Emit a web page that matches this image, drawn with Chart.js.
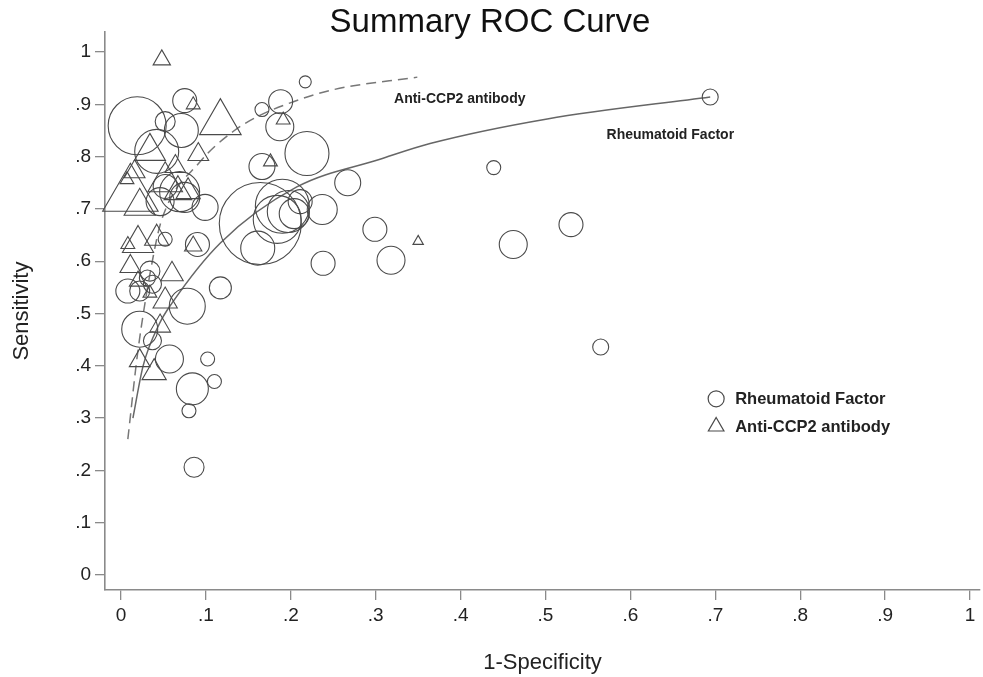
<!DOCTYPE html>
<html><head><meta charset="utf-8">
<script src="https://cdn.jsdelivr.net/npm/chart.js@4"></script>
<style>html,body{margin:0;padding:0;background:#fff}</style>
</head><body>
<canvas id="c" width="983" height="677"></canvas>
<script>
const FONT = '"Liberation Sans", Arial, sans-serif';
const tickValues = [0, 0.1, 0.2, 0.3, 0.4, 0.5, 0.6, 0.7, 0.8, 0.9, 1];
const tickLabels = ['0', '.1', '.2', '.3', '.4', '.5', '.6', '.7', '.8', '.9', '1'];

// Rheumatoid Factor studies (1-specificity, sensitivity, marker size)
const rfX = [0.694,0.439,0.530,0.462,0.565,0.318,0.299,0.267,0.238,0.217,0.237,0.219,0.164,0.190,0.197,0.204,0.184,0.211,0.161,0.166,0.187,0.188,0.166,
             0.019,0.052,0.075,0.071,0.042,0.069,0.075,0.052,0.046,0.099,0.090,0.052,0.031,0.022,0.037,0.008,0.117,0.078,0.022,0.037,0.057,0.102,0.110,0.084,0.080,0.086,0.034];
const rfY = [0.914,0.779,0.670,0.632,0.436,0.602,0.661,0.750,0.596,0.943,0.699,0.806,0.672,0.705,0.695,0.691,0.680,0.714,0.625,0.781,0.857,0.905,0.890,
             0.859,0.867,0.907,0.850,0.810,0.733,0.722,0.743,0.714,0.703,0.632,0.642,0.568,0.543,0.556,0.543,0.549,0.514,0.470,0.448,0.413,0.413,0.370,0.356,0.314,0.206,0.581];
const rfR = [8,7,12,14,8,14,12,13,12,6,15,22,41,27,21,15,24,12,17,13,14,12,7,
             29,10,12,17,22,20,15,12,14,13,12,7,8,10,9,12,11,18,18,9,14,7,7,16,7,10,10];

// Anti-CCP2 antibody studies
const ccpX = [0.048,0.117,0.085,0.091,0.191,0.176,0.350,0.011,0.034,0.022,0.052,0.067,0.079,0.020,0.042,0.008,0.011,0.060,0.020,0.034,0.052,0.046,0.022,0.039,0.085,0.016,0.007,0.064];
const ccpY = [0.985,0.865,0.899,0.804,0.870,0.790,0.638,0.726,0.810,0.705,0.752,0.733,0.733,0.634,0.644,0.632,0.590,0.575,0.562,0.539,0.524,0.476,0.410,0.387,0.629,0.771,0.756,0.781];
const ccpR = [10,24,8,12,8,8,6,32,18,18,20,16,14,18,14,8,12,13,10,8,14,12,12,14,10,12,8,12];

// Summary ROC curves
const rfCurveX = [0.014,0.026,0.045,0.060,0.117,0.207,0.305,0.364,0.502,0.694];
const rfCurveY = [0.300,0.400,0.480,0.520,0.635,0.742,0.795,0.825,0.872,0.914];
const ccpCurveX = [0.008,0.020,0.038,0.048,0.093,0.132,0.160,0.203,0.250,0.349];
const ccpCurveY = [0.260,0.430,0.610,0.680,0.790,0.848,0.876,0.905,0.928,0.952];

const seriesNames = ['Rheumatoid Factor', 'Anti-CCP2 antibody'];

const MARK = '#4a4a4a';
const AXIS = '#8a8a8a';

const annot = {
  id: 'annot',
  afterDatasetsDraw(chart) {
    const {ctx, scales: {x, y}} = chart;
    ctx.save();
    ctx.fillStyle = '#222';
    ctx.font = 'bold 14px ' + FONT;
    ctx.textAlign = 'center';
    ctx.textBaseline = 'middle';
    ctx.fillText(seriesNames[1], x.getPixelForValue(0.399), y.getPixelForValue(0.910));
    ctx.fillText(seriesNames[0], x.getPixelForValue(0.647), y.getPixelForValue(0.842));
    // legend
    const lx = x.getPixelForValue(0.701);
    const ly1 = y.getPixelForValue(0.337);
    const ly2 = y.getPixelForValue(0.284);
    ctx.strokeStyle = MARK;
    ctx.lineWidth = 1.2;
    ctx.beginPath();
    ctx.arc(lx, ly1, 8, 0, Math.PI * 2);
    ctx.stroke();
    const r = 9;
    ctx.beginPath();
    ctx.moveTo(lx, ly2 - r);
    ctx.lineTo(lx + r * Math.sin(2 * Math.PI / 3), ly2 - r * Math.cos(2 * Math.PI / 3));
    ctx.lineTo(lx + r * Math.sin(4 * Math.PI / 3), ly2 - r * Math.cos(4 * Math.PI / 3));
    ctx.closePath();
    ctx.stroke();
    ctx.textAlign = 'left';
    ctx.font = 'bold 16.5px ' + FONT;
    ctx.fillText(seriesNames[0], lx + 19, ly1 + 1);
    ctx.fillText(seriesNames[1], lx + 19, ly2 + 1);
    ctx.restore();
  }
};

const pts = (xs, ys, rs) => xs.map((v, i) => rs ? ({x: v, y: ys[i], r: rs[i]}) : ({x: v, y: ys[i]}));

new Chart(document.getElementById('c'), {
  type: 'bubble',
  data: {
    datasets: [
      {label: seriesNames[0], data: pts(rfX, rfY, rfR), pointStyle: 'circle',
       backgroundColor: 'rgba(0,0,0,0)', borderColor: MARK, borderWidth: 1.1, clip: false},
      {label: seriesNames[1], data: pts(ccpX, ccpY, ccpR), pointStyle: 'triangle',
       backgroundColor: 'rgba(0,0,0,0)', borderColor: MARK, borderWidth: 1.1, clip: false},
      {type: 'line', label: 'SROC ' + seriesNames[0], data: pts(rfCurveX, rfCurveY), borderColor: '#666',
       borderWidth: 1.5, pointRadius: 0, fill: false, cubicInterpolationMode: 'monotone', clip: false},
      {type: 'line', label: 'SROC ' + seriesNames[1], data: pts(ccpCurveX, ccpCurveY), borderColor: '#777',
       borderWidth: 1.5, borderDash: [10, 6], pointRadius: 0, fill: false, cubicInterpolationMode: 'monotone', clip: false}
    ]
  },
  options: {
    responsive: false,
    animation: false,
    devicePixelRatio: 1,
    layout: {autoPadding: false, padding: {top: 0, right: 3, bottom: 0, left: 0}},
    plugins: {
      legend: {display: false},
      tooltip: {enabled: false},
      title: {display: true, text: 'Summary ROC Curve', color: '#111',
              font: {family: FONT, size: 33, weight: 'normal', lineHeight: 0.58},
              padding: {top: 13, bottom: 0}}
    },
    scales: {
      x: {
        type: 'linear', min: -0.0189, max: 1.0118,
        afterBuildTicks: s => { s.ticks = tickValues.map(v => ({value: v})); },
        afterFit: s => { s.height = 87; },
        ticks: {callback: (v, i) => tickLabels[i], color: '#222', font: {family: FONT, size: 19},
                padding: 4, maxRotation: 0, autoSkip: false},
        grid: {drawOnChartArea: false, drawTicks: true, tickLength: 10, color: AXIS, lineWidth: 1.3},
        border: {display: true, color: AXIS, width: 1.6},
        title: {display: true, text: '1-Specificity', color: '#222', font: {family: FONT, size: 22},
                padding: {top: 0, bottom: 1}}
      },
      y: {
        type: 'linear', min: -0.0286, max: 1.038,
        afterBuildTicks: s => { s.ticks = tickValues.map(v => ({value: v})); },
        afterFit: s => { s.width = 105; },
        ticks: {callback: (v, i) => tickLabels[i], color: '#222', font: {family: FONT, size: 19},
                padding: 4, autoSkip: false},
        grid: {drawOnChartArea: false, drawTicks: true, tickLength: 10, color: AXIS, lineWidth: 1.3},
        border: {display: true, color: AXIS, width: 1.6},
        title: {display: true, text: 'Sensitivity', color: '#222', font: {family: FONT, size: 22},
                padding: {top: 9, bottom: 0}}
      }
    }
  },
  plugins: [annot]
});
</script>
</body></html>
